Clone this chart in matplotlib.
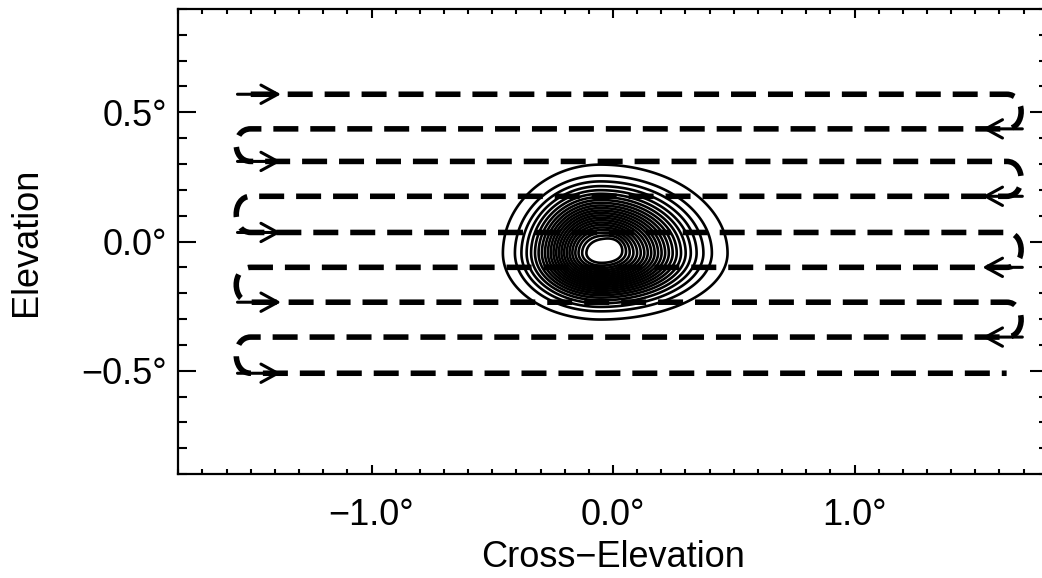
import numpy as np
import matplotlib
matplotlib.use("Agg")
import matplotlib.pyplot as plt
from matplotlib.path import Path
from matplotlib.patches import PathPatch
from matplotlib.ticker import FixedLocator, FixedFormatter, MultipleLocator

plt.rcParams['font.family'] = ['Liberation Sans', 'DejaVu Sans']

# ---- raster scan: elevation of each scan row (deg) ----
row_elev = [0.570, 0.436, 0.310, 0.175, 0.035, -0.100, -0.235, -0.370, -0.510]
scan_left = -1.50      # cross-elevation where rows turn on the left
scan_right = 1.63      # cross-elevation where rows turn on the right
turn_bulge = 0.08      # how far the turnaround loops swing out

# direction arrows at the start of each row (tail, head)
arrow_left = (-1.555, -1.375)
arrow_right = (1.695, 1.530)

# ---- beam map model (deg) ----
core_amp = 1.0
core_center = (-0.052, -0.045)
core_sigma_x = (0.165, 0.215)   # left, right
core_sigma_y = (0.105, 0.140)   # below, above
knot_amp = 0.05
knot_center = (0.005, -0.015)
knot_sigma = 0.035
contour_levels = [0.05, 0.10, 0.14, 0.18, 0.22, 0.26, 0.30, 0.34, 0.38, 0.42,
                  0.46, 0.50, 0.54, 0.58, 0.62, 0.66, 0.70, 0.74, 0.78, 0.82,
                  0.86, 0.90, 0.94]

# ---- axes ----
x_range = (-1.8, 1.8)
y_range = (-0.9, 0.9)
x_ticks = [-1.0, 0.0, 1.0]
x_tick_labels = ['\u22121.0\u00b0', '0.0\u00b0', '1.0\u00b0']
y_ticks = [-0.5, 0.0, 0.5]
y_tick_labels = ['\u22120.5\u00b0', '0.0\u00b0', '0.5\u00b0']

W, H = 1042, 578
fig = plt.figure(figsize=(W / 100, H / 100), dpi=100)
ax = fig.add_axes([178.3 / W, (H - 474) / H, (1047.7 - 178.3) / W, (474 - 9) / H])
ax.set_xlim(*x_range)
ax.set_ylim(*y_range)

# beam contours
gx = np.linspace(-0.9, 0.9, 600)
gy = np.linspace(-0.7, 0.7, 480)
X, Y = np.meshgrid(gx, gy)
cx, cy = core_center
sx = np.where(X < cx, core_sigma_x[0], core_sigma_x[1])
sy = np.where(Y < cy, core_sigma_y[0], core_sigma_y[1])
beam = core_amp * np.exp(-0.5 * ((X - cx) / sx) ** 2 - 0.5 * ((Y - cy) / sy) ** 2)
beam += knot_amp * np.exp(-0.5 * (((X - knot_center[0]) ** 2 + (Y - knot_center[1]) ** 2)
                                  / knot_sigma ** 2))
ax.contour(X, Y, beam, levels=contour_levels, colors='black', linewidths=1.9)

# scan path: rows joined by turnaround loops, alternating direction
verts = [(scan_left, row_elev[0])]
codes = [Path.MOVETO]
for i, y in enumerate(row_elev):
    going_right = (i % 2 == 0)
    x_end = scan_right if going_right else scan_left
    verts.append((x_end, y))
    codes.append(Path.LINETO)
    if i + 1 < len(row_elev):
        y_next = row_elev[i + 1]
        d = turn_bulge if going_right else -turn_bulge
        verts += [(x_end + d, y), (x_end + d, y_next), (x_end, y_next)]
        codes += [Path.CURVE4] * 3
scan = PathPatch(Path(verts, codes), fill=False, edgecolor='black', linewidth=4.0,
                 linestyle=(0, (4.5, 2.15)), capstyle='butt', joinstyle='round')
ax.add_patch(scan)

for i, y in enumerate(row_elev):
    tail, head = arrow_left if i % 2 == 0 else arrow_right
    ax.annotate('', xy=(head, y), xytext=(tail, y),
                arrowprops=dict(arrowstyle='->,head_length=0.55,head_width=0.3',
                                lw=2.2, color='black', shrinkA=0, shrinkB=0,
                                mutation_scale=22))

# ticks
ax.xaxis.set_major_locator(FixedLocator(x_ticks))
ax.xaxis.set_major_formatter(FixedFormatter(x_tick_labels))
ax.yaxis.set_major_locator(FixedLocator(y_ticks))
ax.yaxis.set_major_formatter(FixedFormatter(y_tick_labels))
ax.xaxis.set_minor_locator(MultipleLocator(0.1))
ax.yaxis.set_minor_locator(MultipleLocator(0.1))
ax.tick_params(which='both', direction='in', top=True, right=True, width=1.5,
               labelsize=26, colors='black')
ax.tick_params(axis='x', which='major', length=6.5, pad=17)
ax.tick_params(axis='x', which='minor', length=3.3)
ax.tick_params(axis='y', which='major', length=13, pad=8)
ax.tick_params(axis='y', which='minor', length=6.5)
for s in ax.spines.values():
    s.set_linewidth(1.6)

fig.text(613 / W, 1 - 567 / H, 'Cross\u2212Elevation', fontsize=26,
         ha='center', va='baseline')
fig.text(36 / W, 1 - 242 / H, 'Elevation', fontsize=26, rotation=90,
         rotation_mode='anchor', ha='center', va='baseline')

fig.savefig('out.png', dpi=100)
